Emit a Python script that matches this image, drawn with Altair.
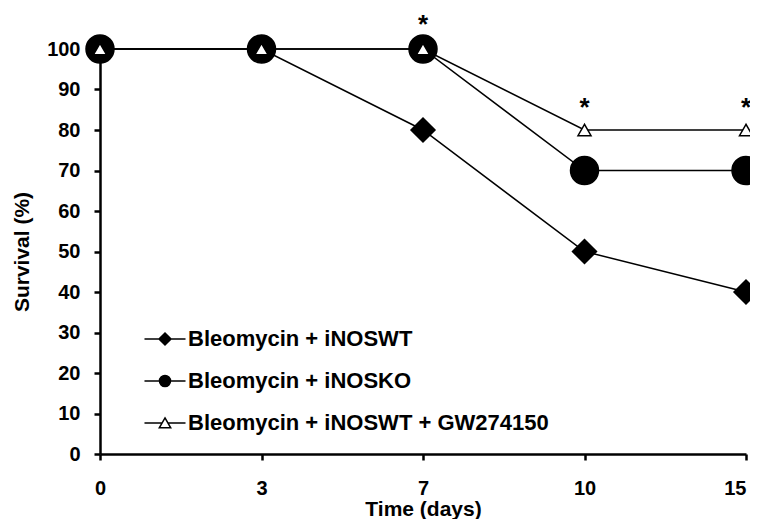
import altair as alt
import pandas as pd

days = ["0", "3", "7", "10", "15"]
series = ["Bleomycin + iNOSWT", "Bleomycin + iNOSKO", "Bleomycin + iNOSWT + GW274150"]
wt = [100, 100, 80, 50, 40]
ko = [100, 100, 100, 70, 70]
gw = [100, 100, 100, 80, 80]

star_days = ["7", "10", "15"]
star_level = [106, 85.5, 85.5]

rows = []
for name, vals in zip(series, [wt, ko, gw]):
    for d, v in zip(days, vals):
        rows.append({"day": d, "survival": v, "series": name})
df = pd.DataFrame(rows)
stars = pd.DataFrame({"day": star_days, "level": star_level, "label": ["*"] * 3})

FONT = "Liberation Sans"

x = alt.X("day:O", sort=days, scale=alt.Scale(type="point", padding=0),
          axis=alt.Axis(title="Time (days)", labelAngle=0, labelPadding=18, titlePadding=0,
                        labelAlign={"condition": {"test": "datum.value == '15'", "value": "right"},
                                    "value": "center"}))
y = alt.Y("survival:Q", scale=alt.Scale(domain=[0, 100], nice=False),
          axis=alt.Axis(title="Survival (%)", values=list(range(0, 101, 10)),
                        labelPadding=14, titlePadding=14))

lines = alt.Chart(df).mark_line(color="black", strokeWidth=1.5).encode(
    x=x, y=y, detail="series:N")

points = alt.Chart(df).mark_point(filled=True, stroke="black", strokeWidth=1.5, opacity=1).encode(
    x=x, y=y,
    shape=alt.Shape("series:N", scale=alt.Scale(domain=series, range=["diamond", "circle", "triangle-up"]), legend=None),
    fill=alt.Fill("series:N", scale=alt.Scale(domain=series, range=["black", "black", "white"]), legend=None),
    size=alt.Size("series:N", scale=alt.Scale(type="ordinal", domain=series, range=[576, 784, 170]), legend=None),
)

leg_paths = [
    "M-3.42,0L-1,0M0,-1L1,0L0,1L-1,0ZM1,0L3.42,0",
    "M-3.42,0L-0.92,0M-0.92,0A0.92,0.92 0 1,0 0.92,0A0.92,0.92 0 1,0 -0.92,0ZM0.92,0L3.42,0",
    "M-3.42,0L-0.49,0M0,-0.85L0.95,0.8L-0.95,0.8ZM0.49,0L3.42,0",
]
legend = alt.Legend(title=None, orient="none", legendX=54, legendY=279, labelFont=FONT,
                    labelFontSize=22, labelFontWeight="bold", labelColor="black",
                    rowPadding=20, labelOffset=12, symbolSize=144, padding=0,
                    symbolStrokeColor="black", symbolStrokeWidth=1.5, labelLimit=0)
leg_layer = alt.Chart(df).transform_filter("false").mark_point(
    filled=False, strokeWidth=1.5, size=144, opacity=1).encode(
    x=x, y=y,
    shape=alt.Shape("series:N", scale=alt.Scale(domain=series, range=leg_paths), legend=legend),
    fill=alt.Fill("series:N", scale=alt.Scale(domain=series, range=["black", "black", "white"]), legend=legend),
    stroke=alt.Stroke("series:N", scale=alt.Scale(domain=series, range=["black", "black", "black"]), legend=legend),
)

star_text = alt.Chart(stars).mark_text(font=FONT, fontSize=26, fontWeight="bold", color="black",
                                       baseline="middle").encode(
    x=alt.X("day:O", sort=days, scale=alt.Scale(type="point", padding=0)),
    y=alt.Y("level:Q"),
    text="label:N",
)

chart = alt.layer(lines, points, leg_layer, star_text).resolve_scale(
    shape="independent", fill="independent", size="independent", stroke="independent"
).properties(
    width=646, height=405,
    autosize=alt.AutoSizeParams(type="none"),
    padding={"left": 92, "top": 41, "right": 4, "bottom": 65},
).configure_view(stroke=None).configure_axis(
    grid=False, domainColor="black", domainWidth=2.5, tickColor="black", tickWidth=2.5,
    tickSize=6, labelFont=FONT, labelFontSize=20, labelFontWeight="bold", labelColor="black",
    titleFont=FONT, titleFontSize=21, titleFontWeight="bold", titleColor="black",
)

chart.save("out.html", embed_options={"renderer": "svg", "actions": False})
